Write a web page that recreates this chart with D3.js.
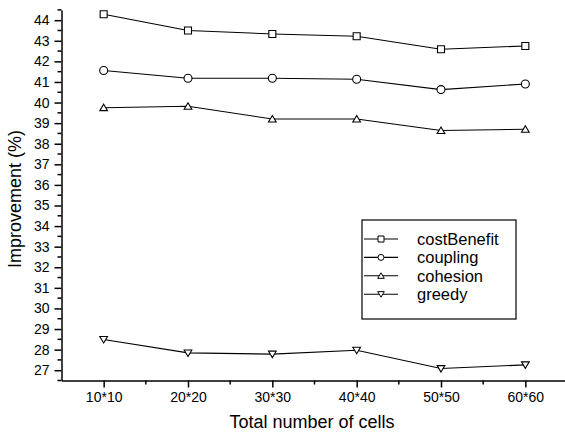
<!DOCTYPE html>
<html>
<head>
<meta charset="utf-8">
<title>Improvement vs cells</title>
<style>
body {margin: 0; background: #fff;}
svg text {font-family: "Liberation Sans", Arial, sans-serif; fill: #000;}
.axis path, .axis line {stroke: #000; stroke-width: 1.5px;}
</style>
</head>
<body>
<svg width="565" height="439"></svg>
<script src="https://d3js.org/d3.v7.min.js"></script>
<script>
var categories = ["10*10", "20*20", "30*30", "40*40", "50*50", "60*60"];
var costBenefit = [44.29, 43.50, 43.33, 43.22, 42.59, 42.75];
var coupling = [41.56, 41.18, 41.18, 41.13, 40.63, 40.90];
var cohesion = [39.75, 39.82, 39.20, 39.20, 38.64, 38.70];
var greedy = [28.49, 27.84, 27.78, 27.97, 27.08, 27.26];
var seriesNames = ["costBenefit", "coupling", "cohesion", "greedy"];
var yTicks = d3.range(27, 45);

var series = [
    {name: "costBenefit", values: costBenefit, shape: "square"},
    {name: "coupling", values: coupling, shape: "circle"},
    {name: "cohesion", values: cohesion, shape: "up"},
    {name: "greedy", values: greedy, shape: "down"}
];

var svg = d3.select("svg");
var x = d3.scaleLinear().domain([0.5, 6.5]).range([61.5, 567.5]);
var y = d3.scaleLinear().domain([26.5, 44.5]).range([380.5, 9.9]);

// marker path for each shape, centred on 0,0
function markerPath(shape, s) {
    var h = s / 2;
    if (shape == "square") return "M" + (-h) + "," + (-h) + "h" + s + "v" + s + "h" + (-s) + "Z";
    if (shape == "circle") return d3.symbol().type(d3.symbolCircle).size(Math.PI * h * h)();
    if (shape == "up") return "M0," + (-h) + "L" + (h * 1.1) + "," + (h * 0.85) + "L" + (-h * 1.1) + "," + (h * 0.85) + "Z";
    return "M0," + h + "L" + (h * 1.1) + "," + (-h * 0.85) + "L" + (-h * 1.1) + "," + (-h * 0.85) + "Z";
}

// y axis: majors + minors
var yAxis = svg.append("g").attr("class", "axis")
    .attr("transform", "translate(" + x(0.5) + ",0)")
    .call(d3.axisLeft(y).tickValues(yTicks).tickSize(7).tickPadding(5).tickSizeOuter(0));
yAxis.selectAll("text").style("font-size", "14px");
yAxis.selectAll(".minor").data(yTicks.map(function(d) { return d - 0.5; }).concat([44.5]))
    .enter().append("line").attr("class", "minor")
    .attr("x1", -4).attr("x2", 0)
    .attr("y1", function(d) { return y(d); }).attr("y2", function(d) { return y(d); });

// x axis
var xAxis = svg.append("g").attr("class", "axis")
    .attr("transform", "translate(0," + y(26.5) + ")")
    .call(d3.axisBottom(x).tickValues(d3.range(1, 7)).tickSize(7).tickPadding(5).tickSizeOuter(0)
        .tickFormat(function(d) { return categories[d - 1]; }));
xAxis.selectAll("text").style("font-size", "14px");
xAxis.selectAll(".minor").data(d3.range(1.5, 6, 1))
    .enter().append("line").attr("class", "minor")
    .attr("y1", 0).attr("y2", 4)
    .attr("x1", function(d) { return x(d); }).attr("x2", function(d) { return x(d); });

// axis titles
svg.append("text").attr("x", 312).attr("y", 428).attr("text-anchor", "middle")
    .style("font-size", "18px").text("Total number of cells");
svg.append("text").attr("transform", "translate(21,199) rotate(-90)").attr("text-anchor", "middle")
    .style("font-size", "18px").text("Improvement (%)");

// lines and markers
var line = d3.line().x(function(d, i) { return x(i + 1); }).y(function(d) { return y(d); });
series.forEach(function(s) {
    svg.append("path").datum(s.values).attr("d", line)
        .attr("fill", "none").attr("stroke", "#000").attr("stroke-width", 1.1);
    svg.selectAll(".m-" + s.name).data(s.values).enter().append("path")
        .attr("transform", function(d, i) { return "translate(" + x(i + 1) + "," + y(d) + ")"; })
        .attr("d", markerPath(s.shape, s.shape == "circle" ? 8 : 7))
        .attr("fill", "#fff").attr("stroke", "#000").attr("stroke-width", 1.1);
});

// legend
var legend = svg.append("g").attr("transform", "translate(362,220)");
legend.append("rect").attr("width", 154).attr("height", 99)
    .attr("fill", "#fff").attr("stroke", "#000").attr("stroke-width", 1.2);
var item = legend.selectAll(".item").data(series).enter().append("g")
    .attr("transform", function(d, i) { return "translate(0," + (19 + i * 18.4) + ")"; });
item.append("line").attr("x1", 2).attr("x2", 36).attr("stroke", "#000").attr("stroke-width", 1.1);
item.append("path").attr("transform", "translate(19,0)")
    .attr("d", function(d) { return markerPath(d.shape, 6); })
    .attr("fill", "#fff").attr("stroke", "#000").attr("stroke-width", 1);
item.append("text").attr("x", 55).attr("dy", "0.35em").style("font-size", "16.5px")
    .text(function(d, i) { return seriesNames[i]; });
</script>
</body>
</html>
